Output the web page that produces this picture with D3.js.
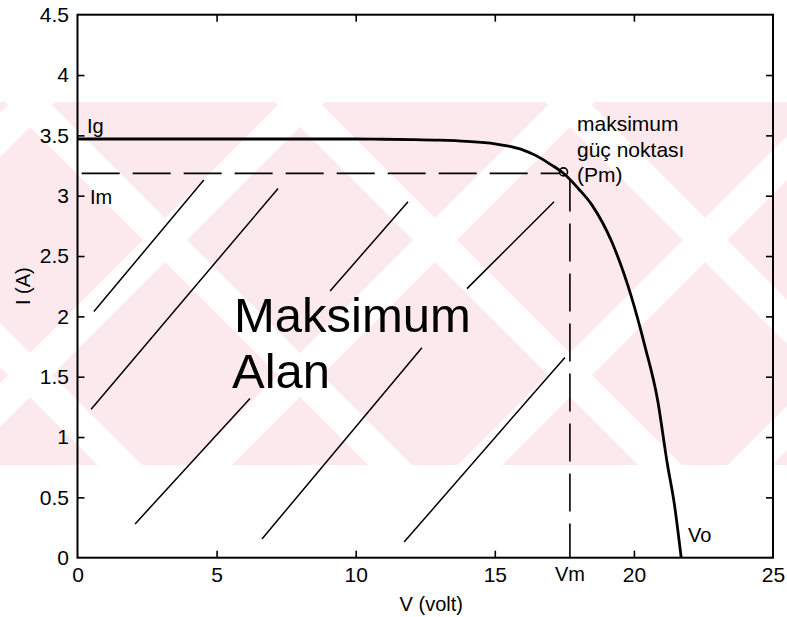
<!DOCTYPE html>
<html>
<head>
<meta charset="utf-8">
<script src="https://cdn.jsdelivr.net/npm/d3@7"></script>
<style>
  body { margin: 0; background: #ffffff; }
  svg { display: block; }
  text { font-family: "Liberation Sans", Arial, Helvetica, sans-serif; fill: #000; }
</style>
</head>
<body>
<svg id="chart" width="787" height="617"></svg>
<script>
// I-V characteristic of a PV module
const voltage = [0, 2, 4, 6, 8, 10, 11, 12, 13, 14, 15, 15.5, 16, 16.5, 17, 17.5, 18, 18.5, 19.2, 19.9, 20.4, 20.85, 21.2, 21.45, 21.7];
const current = [3.47, 3.47, 3.47, 3.47, 3.47, 3.47, 3.468, 3.465, 3.46, 3.45, 3.43, 3.41, 3.38, 3.33, 3.26, 3.18, 3.06, 2.92, 2.62, 2.17, 1.75, 1.31, 0.78, 0.45, 0];

// maximum power point
const pmVoltage = 17.47;
const vmLine = 17.7;
const imLine = 3.185;

// hatching of the maximum-power rectangle
const hatchStartV = [0.59, 0.49, 2.07, 6.63, 9.08, 14.0, 11.74];
const hatchStartI = [2.04, 1.23, 0.28, 0.155, 2.21, 2.23, 0.13];
const hatchEndV   = [4.54, 7.21, 6.20, 12.38, 11.88, 17.13, 17.52];
const hatchEndI   = [3.13, 3.06, 1.32, 1.74, 2.95, 2.95, 1.66];

const xTicks = [0, 5, 10, 15, 20, 25];
const yTicks = [0, 0.5, 1, 1.5, 2, 2.5, 3, 3.5, 4, 4.5];
const yTickLabels = ["0", "0.5", "1", "1.5", "2", "2.5", "3", "3.5", "4", "4.5"];

(function draw() {
  const svg = d3.select("#chart");
  const W = 787;
  const pL = 77.5, pR = 773, pT = 14.7, pB = 557.7;

  const x = d3.scaleLinear().domain([0, 25]).range([pL, pR]);
  const y = d3.scaleLinear().domain([0, 4.5]).range([pB, pT]);

  // ---- pale watermark band behind the plot ----
  const band = { y0: 102, y1: 465 };
  svg.append("clipPath").attr("id", "bandClip")
    .append("rect").attr("x", 0).attr("y", band.y0).attr("width", W).attr("height", band.y1 - band.y0);
  const wmg = svg.append("g").attr("clip-path", "url(#bandClip)");
  wmg.append("rect").attr("x", 0).attr("y", band.y0).attr("width", W).attr("height", band.y1 - band.y0)
    .attr("fill", "#fce9ed");
  const period = 270, gap = 44, downOffset = -75, upOffset = 405;
  const sw = gap / Math.SQRT2;
  for (let c = downOffset - 3 * period; c < W + period; c += period) {
    wmg.append("line").attr("x1", c + band.y0 - 20).attr("y1", band.y0 - 20)
      .attr("x2", c + band.y1 + 20).attr("y2", band.y1 + 20)
      .attr("stroke", "#fff").attr("stroke-width", sw);
  }
  for (let c = upOffset - 3 * period; c < W + band.y1 + period; c += period) {
    wmg.append("line").attr("x1", c - band.y0 + 20).attr("y1", band.y0 - 20)
      .attr("x2", c - band.y1 - 20).attr("y2", band.y1 + 20)
      .attr("stroke", "#fff").attr("stroke-width", sw);
  }

  // ---- axes (ticks on all four sides, pointing inward) ----
  const gx = svg.append("g").attr("transform", `translate(0,${pB})`)
    .call(d3.axisBottom(x).tickValues(xTicks).tickSizeInner(-7).tickSizeOuter(0).tickPadding(9.5).tickFormat(d3.format("d")));
  const gxt = svg.append("g").attr("transform", `translate(0,${pT})`)
    .call(d3.axisTop(x).tickValues(xTicks).tickSizeInner(-7).tickSizeOuter(0).tickFormat(""));
  const gy = svg.append("g").attr("transform", `translate(${pL},0)`)
    .call(d3.axisLeft(y).tickValues(yTicks).tickSizeInner(-7).tickSizeOuter(0).tickPadding(8.5)
      .tickFormat((d, i) => yTickLabels[i]));
  const gyr = svg.append("g").attr("transform", `translate(${pR},0)`)
    .call(d3.axisRight(y).tickValues(yTicks).tickSizeInner(-7).tickSizeOuter(0).tickFormat(""));

  [gx, gxt, gy, gyr].forEach(g => {
    g.select(".domain").remove();
    g.selectAll(".tick line").attr("stroke", "#000").attr("stroke-width", 1.6);
    g.selectAll("text").attr("font-size", "21px").attr("fill", "#000")
      .attr("font-family", "'Liberation Sans', Arial, sans-serif");
  });
  [gx, gxt].forEach(g => g.selectAll(".tick").filter(d => d === 0 || d === 25).select("line").remove());
  [gy, gyr].forEach(g => g.selectAll(".tick").filter(d => d === 0 || d === 4.5).select("line").remove());

  svg.append("rect").attr("x", pL).attr("y", pT).attr("width", pR - pL).attr("height", pB - pT)
    .attr("fill", "none").attr("stroke", "#000").attr("stroke-width", 2);

  // ---- hatching ----
  svg.append("g").selectAll("line").data(hatchStartV).join("line")
    .attr("x1", (d, i) => x(hatchStartV[i])).attr("y1", (d, i) => y(hatchStartI[i]))
    .attr("x2", (d, i) => x(hatchEndV[i])).attr("y2", (d, i) => y(hatchEndI[i]))
    .attr("stroke", "#000").attr("stroke-width", 1.5);

  // ---- dashed guides to the maximum power point ----
  svg.append("line")
    .attr("x1", x(0.15)).attr("y1", y(imLine)).attr("x2", x(pmVoltage) - 4).attr("y2", y(imLine))
    .attr("stroke", "#000").attr("stroke-width", 1.6).attr("stroke-dasharray", "38 13");
  svg.append("line")
    .attr("x1", x(vmLine)).attr("y1", y(imLine) + 6).attr("x2", x(vmLine)).attr("y2", y(0))
    .attr("stroke", "#000").attr("stroke-width", 1.6).attr("stroke-dasharray", "38 12").attr("stroke-dashoffset", 6);

  // ---- I-V curve ----
  const pts = voltage.map((v, i) => [v, current[i]]);
  svg.append("path").datum(pts)
    .attr("d", d3.line().x(d => x(d[0])).y(d => y(d[1])).curve(d3.curveMonotoneX))
    .attr("fill", "none").attr("stroke", "#000").attr("stroke-width", 2.8).attr("stroke-linejoin", "round");

  svg.append("circle").attr("cx", x(pmVoltage)).attr("cy", y(imLine) - 1.5).attr("r", 4)
    .attr("fill", "none").attr("stroke", "#000").attr("stroke-width", 1.6);

  // ---- labels ----
  const label = (txt, px, py, size, anchor) => svg.append("text").text(txt)
    .attr("x", px).attr("y", py).attr("font-size", size).attr("text-anchor", anchor || "start");

  label("Ig", 87, 133, "20px");
  label("Im", 90, 204, "20px");
  label("Vm", x(vmLine), 581, "20px", "middle");
  label("Vo", 688, 542, "20px");
  label("maksimum", 577, 131, "21px");
  label("güç noktası", 577, 157, "21px");
  label("(Pm)", 577, 182, "21px");
  label("Maksimum", 234, 332, "49px");
  label("Alan", 232, 388, "49px");

  label("V (volt)", (pL + pR) / 2 + 6, 611, "20px", "middle");
  svg.append("text").text("I (A)")
    .attr("transform", `translate(30,${(pT + pB) / 2}) rotate(-90)`)
    .attr("text-anchor", "middle").attr("font-size", "20px");
})();
</script>
</body>
</html>
